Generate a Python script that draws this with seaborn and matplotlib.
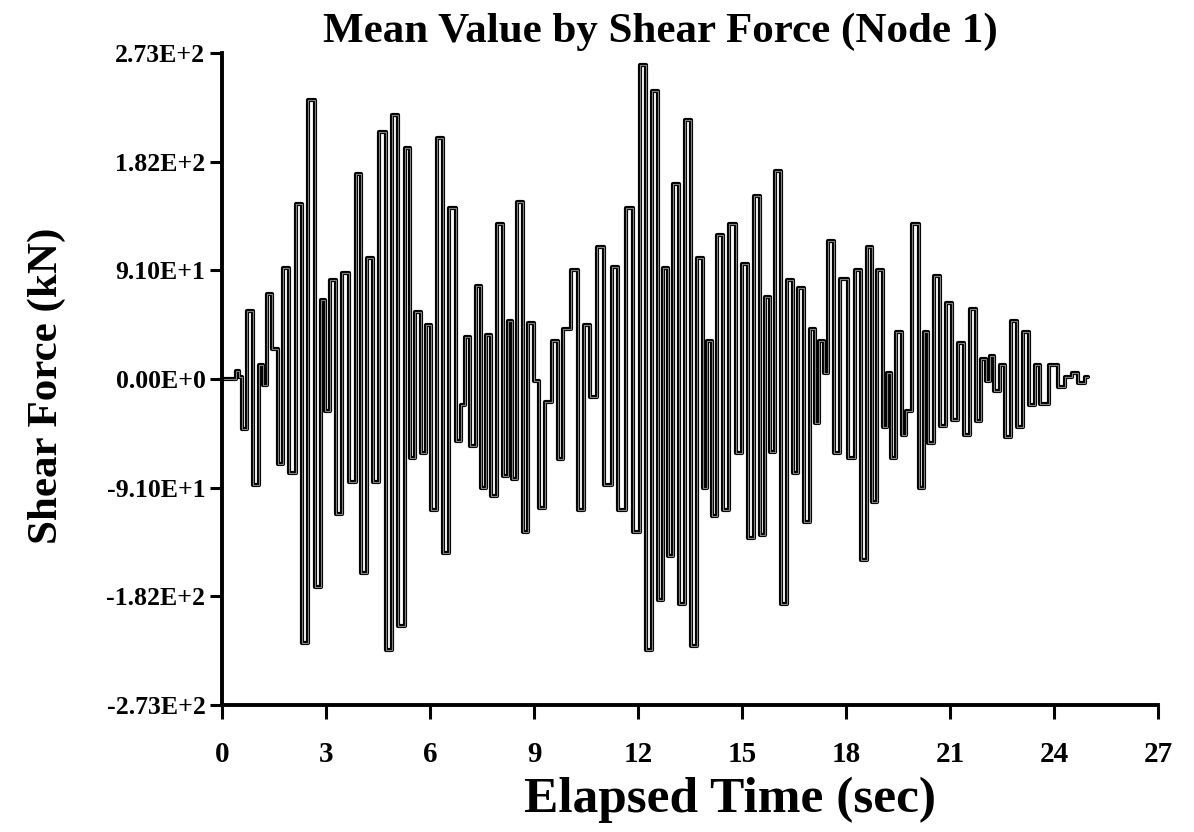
import numpy as np
import pandas as pd
import matplotlib
matplotlib.use("Agg")
import matplotlib.pyplot as plt
import seaborn as sns

# 读图得到的极值点 (时间 s, 剪力 kN)
time_s = [0.0, 0.35, 0.45, 0.52, 0.62, 0.79, 1.0, 1.14, 1.22, 1.38, 1.52, 1.69, 1.85, 2.01,
          2.23, 2.37, 2.59, 2.78, 2.90, 3.02, 3.19, 3.36, 3.55, 3.79, 3.93, 4.08, 4.30, 4.43,
          4.63, 4.80, 4.99, 5.18, 5.38, 5.47, 5.66, 5.81, 5.95, 6.08, 6.29, 6.43, 6.65, 6.82,
          6.94, 7.06, 7.25, 7.39, 7.54, 7.68, 7.83, 8.02, 8.16, 8.31, 8.42, 8.60, 8.74, 8.93,
          9.07, 9.22, 9.41, 9.60, 9.75, 9.94, 10.18, 10.37, 10.52, 10.71, 10.90, 11.14, 11.33,
          11.52, 11.76, 11.96, 12.13, 12.30, 12.49, 12.63, 12.83, 12.92, 13.11, 13.23, 13.45,
          13.59, 13.79, 13.93, 14.06, 14.19, 14.36, 14.51, 14.73, 14.89, 15.08, 15.23, 15.44,
          15.57, 15.73, 15.86, 16.05, 16.21, 16.38, 16.53, 16.72, 16.86, 17.04, 17.15, 17.30,
          17.40, 17.58, 17.73, 17.92, 18.16, 18.35, 18.50, 18.69, 18.80, 18.98, 19.12, 19.24,
          19.36, 19.54, 19.66, 19.80, 20.0, 20.18, 20.31, 20.44, 20.61, 20.79, 20.98, 21.12,
          21.32, 21.48, 21.67, 21.84, 21.96, 22.08, 22.2, 22.35, 22.5, 22.65, 22.87, 23.0,
          23.2, 23.37, 23.52, 23.68, 24.0, 24.2, 24.4, 24.6, 24.8, 24.98]
shear_kN = [0, 0, 7, 2, -42, 57, -89, 12, -5, 71, 25, -71, 93, -79,
            147, -221, 234, -174, 66, -27, 83, -113, 89, -86, 172, -163, 101, -86,
            207, -227, 221, -207, 194, -66, 56, -62, 45, -110, 202, -146, 143, -52,
            -22, 35, -56, 78, -91, 37, -98, 130, -81, 49, -84, 148, -128, 47,
            -2, -108, -19, 32, -67, 42, 91, -110, 45, -15, 111, -89, 94,
            -110, 143, -128, 263, -227, 241, -185, 93, -148, 163, -189, 217,
            -224, 101, -91, 32, -115, 121, -110, 130, -62, 96, -133, 153,
            -131, 69, -61, 174, -189, 83, -79, 76, -120, 42, -37, 32,
            5, 116, -62, 84, -66, 91, -152, 111, -103, 91, -40, 5,
            -66, 39, -47, -27, 130, -91, 39, -54, 86, -39, 64, -34,
            30, -47, 59, -35, 17, -2, 19, -10, 12, -49, 49, -40,
            39, -22, 12, -21, 12, -7, 2, 5, -3, 2]

y_ticks = [-273, -182, -91, 0, 91, 182, 273]
y_tick_labels = ["-2.73E+2", "-1.82E+2", "-9.10E+1", "0.00E+0", "9.10E+1", "1.82E+2", "2.73E+2"]
x_ticks = list(range(0, 28, 3))

df = pd.DataFrame({"time": time_s, "shear": shear_kN})

sns.set_style("ticks")
plt.rcParams['font.family'] = ['Liberation Serif', 'DejaVu Serif']
plt.rcParams['font.weight'] = 'bold'
plt.rcParams['text.color'] = 'black'
plt.rcParams['axes.labelcolor'] = 'black'
plt.rcParams['xtick.color'] = 'black'
plt.rcParams['ytick.color'] = 'black'

fig = plt.figure(figsize=(11.94, 8.32), dpi=100)
ax = fig.add_axes([0.186, 0.153, 0.784, 0.783])

# 黑色外框 + 灰色内芯，阶梯线模仿原图
sns.lineplot(data=df, x="time", y="shear", ax=ax, color="black", linewidth=3.0,
             sort=False, drawstyle="steps-mid")
sns.lineplot(data=df, x="time", y="shear", ax=ax, color="#808080", linewidth=0.8,
             sort=False, drawstyle="steps-mid")

ax.set_xlim(0, 27)
ax.set_ylim(-273, 273)
ax.set_xticks(x_ticks)
ax.set_yticks(y_ticks)
ax.set_yticklabels(y_tick_labels)
ax.tick_params(axis='x', labelsize=21, width=2.2, length=10, pad=16)
ax.tick_params(axis='y', labelsize=18.5, width=2.2, length=9, pad=3)

for side in ['top', 'right']:
    ax.spines[side].set_visible(False)
for side in ['left', 'bottom']:
    ax.spines[side].set_linewidth(2.8)
    ax.spines[side].set_color('black')

ax.set_title('Mean Value by Shear Force (Node 1)', fontsize=31, fontweight='bold',
             x=0.468, pad=8)
ax.set_xlabel('Elapsed Time (sec)', fontsize=37, fontweight='bold')
ax.xaxis.set_label_coords(0.543, -0.11)
ax.set_ylabel('Shear Force (kN)', fontsize=31, fontweight='bold')
ax.yaxis.set_label_coords(-0.167, 0.49)

fig.savefig('out.png', dpi=100)
